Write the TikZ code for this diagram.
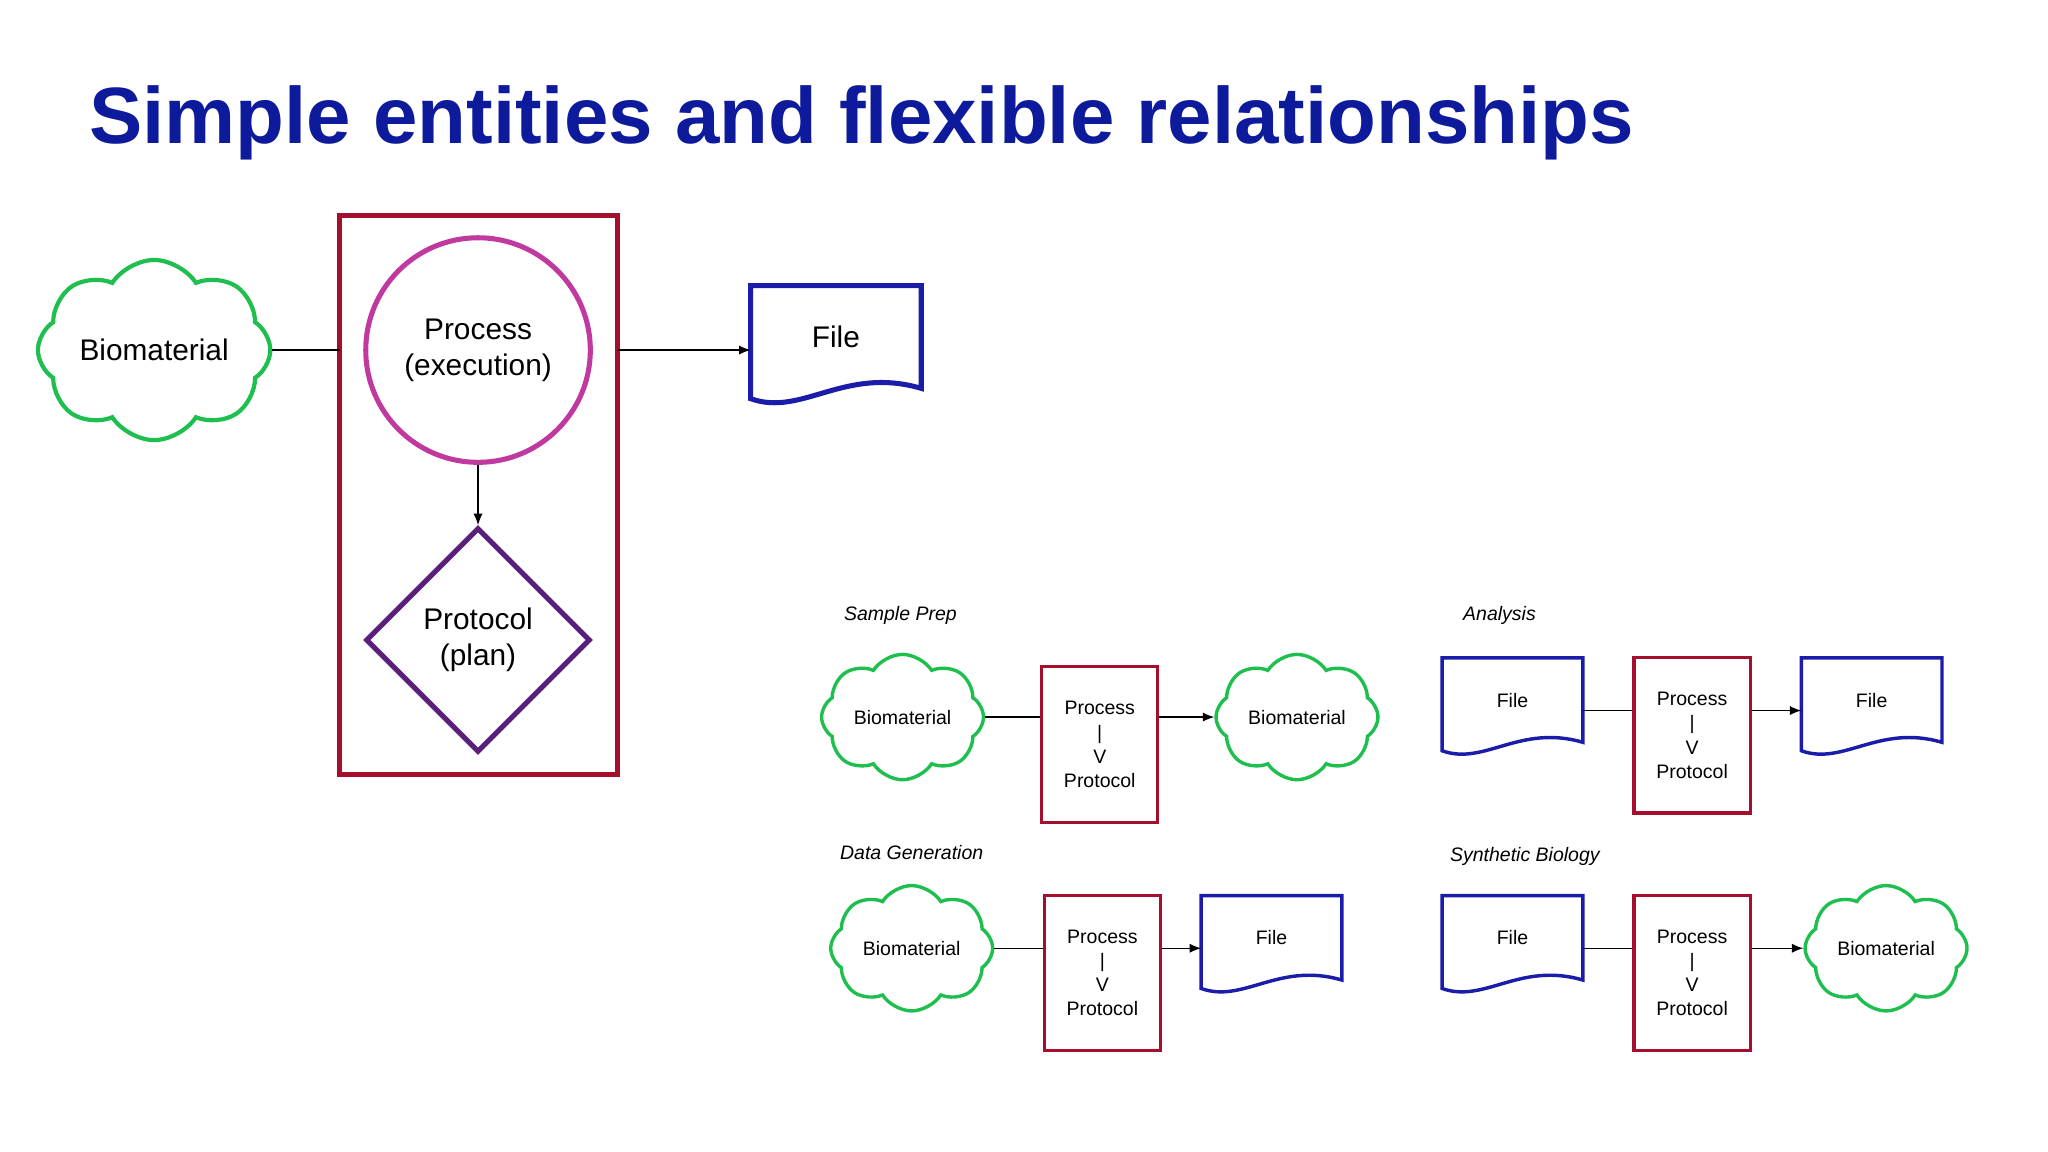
\documentclass[tikz,border=0pt]{standalone}
\usepackage{fontspec}
\setmainfont{Liberation Sans}
\usetikzlibrary{shapes.symbols,shapes.geometric,arrows.meta,calc}
\definecolor{cgreen}{HTML}{1FBF4F}
\definecolor{cred}{HTML}{A50E2D}
\definecolor{cblue}{HTML}{1C1CAA}
\definecolor{cmag}{HTML}{C0399F}
\definecolor{cpurp}{HTML}{5A1F7A}
\definecolor{ctitle}{HTML}{0D1A9C}
\tikzset{
 bigcloud/.style={cloud, cloud puffs=8, cloud puff arc=115, aspect=1.5, draw=cgreen, line width=3.2pt*0.569, minimum width=178*0.569pt, minimum height=138*0.569pt, font=\fontsize{13}{15}\selectfont, inner sep=0pt},
 smallcloud/.style={cloud, cloud puffs=8, cloud puff arc=115, aspect=1.5, draw=cgreen, line width=2.6pt*0.569, minimum width=124*0.569pt, minimum height=96*0.569pt, font=\fontsize{8.5}{10}\selectfont, inner sep=0pt},
 procbox/.style={draw=cred, line width=2.4pt*0.569, minimum width=89*0.569pt, minimum height=119*0.569pt, align=center, font=\fontsize{8.5}{10.5}\selectfont},
 docbox/.style={minimum width=107*0.569pt, minimum height=64*0.569pt, font=\fontsize{8.5}{10}\selectfont},
 conn/.style={line width=0.6pt},
 arr/.style={line width=0.6pt, -{Latex[length=5pt,width=4pt]}},
 panel/.style={font=\fontsize{8.5}{10}\selectfont\itshape, anchor=west},
}
\newcommand\docpath[3]{% node, color, linewidth
 \draw[#2, line width=#3, line join=miter] let \p1=(#1.north west), \p2=(#1.south east), \n1={\x2-\x1}, \n2={\y1-\y2} in
 (\x1,\y1)--(\x2,\y1)--(\x2,\y2) .. controls (\x1+0.55*\n1,\y2+0.22*\n2) and (\x1+0.3*\n1,\y2-0.28*\n2) .. (\x1,\y2-0.1*\n2) -- cycle;}
\begin{document}
\begin{tikzpicture}[x=0.02cm,y=-0.02cm]
\useasboundingbox[fill=white] (0,0) rectangle (1568,882);
\node[anchor=base west, text=ctitle, font=\fontsize{34.8}{38}\selectfont\bfseries, inner sep=0pt] (title) at (68,110) {Simple entities and flexible relationships};
% big diagram
\node[bigcloud] (bio) at (118,268) {Biomaterial};
\draw[cred, line width=2.2] (260,165) rectangle (473,593);
\coordinate (rl) at (260,268); \coordinate (rr) at (473,268);
\node[circle, draw=cmag, line width=2.2, minimum size=172*0.569pt, align=center, font=\fontsize{13}{15.5}\selectfont, inner sep=0pt] (proc) at (366,268) {Process\\(execution)};
\node[diamond, draw=cpurp, line width=2.2, minimum width=172*0.569pt, minimum height=172*0.569pt, align=center, font=\fontsize{13}{15.5}\selectfont, inner sep=0pt] (prot) at (366,490) {Protocol\\(plan)};
\node[minimum width=130*0.569pt, minimum height=78*0.569pt, font=\fontsize{13}{15}\selectfont] (file) at (640,258) {File};
\docpath{file}{cblue}{2.2}
\draw[conn] (bio.east) -- (rl);
\draw[arr] (proc.south) -- (prot.north);
\draw[arr] (rr) -- (rr -| file.west);
% Sample prep
\node[panel] (l1) at (640,471) {Sample Prep};
\node[smallcloud] (c1) at (691,549) {Biomaterial};
\node[procbox] (p1) at (842,570) {Process\\|\\V\\Protocol};
\node[smallcloud] (c2) at (993,549) {Biomaterial};
\draw[conn] (c1.east) -- (c1.east -| p1.west);
\draw[arr] (c2.west -| p1.east) -- (c2.west);
% Analysis
\node[panel] (l2) at (1114,471) {Analysis};
\node[docbox] (f1) at (1158,536) {File};
\docpath{f1}{cblue}{1.5}
\node[procbox] (p2) at (1295.5,563) {Process\\|\\V\\Protocol};
\node[docbox] (f2) at (1433,536) {File};
\docpath{f2}{cblue}{1.5}
\coordinate (y2) at (0,544);
\draw[conn] (y2 -| f1.east) -- (y2 -| p2.west);
\draw[arr] (y2 -| p2.east) -- (y2 -| f2.west);
% Data generation
\node[panel] (l3) at (637,653) {Data Generation};
\node[smallcloud] (c3) at (698,726) {Biomaterial};
\node[procbox] (p3) at (844,745) {Process\\|\\V\\Protocol};
\node[docbox] (f3) at (973.5,718) {File};
\docpath{f3}{cblue}{1.5}
\coordinate (y3) at (0,726);
\draw[conn] (c3.east) -- (y3 -| p3.west);
\draw[arr] (y3 -| p3.east) -- (y3 -| f3.west);
% Synthetic biology
\node[panel] (l4) at (1104,656) {Synthetic Biology};
\node[docbox] (f4) at (1158,718) {File};
\docpath{f4}{cblue}{1.5}
\node[procbox] (p4) at (1295.5,745) {Process\\|\\V\\Protocol};
\node[smallcloud] (c4) at (1444,726) {Biomaterial};
\coordinate (y4) at (0,726);
\draw[conn] (y4 -| f4.east) -- (y4 -| p4.west);
\draw[arr] (y4 -| p4.east) -- (c4.west);
\end{tikzpicture}
\end{document}
